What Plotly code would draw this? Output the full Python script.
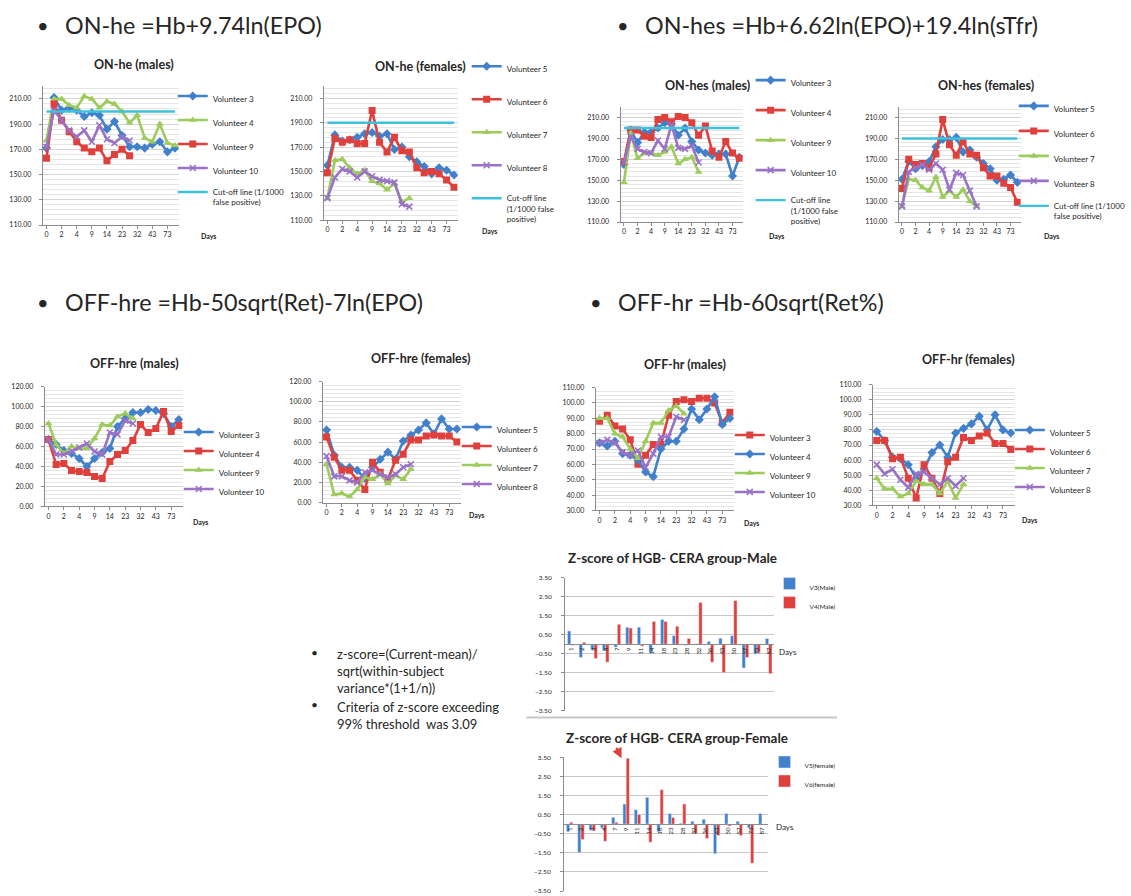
import plotly.graph_objects as go

W, H = 1131, 896
FONT = "Lato"
TXT = "#262626"
AX = "#8c8c8c"
GRID = "#d4d4d4"
MINOR = "#e6e6e6"

BLUE = "#4181cc"
RED = "#e0403c"
GREEN = "#9dcb5c"
PURPLE = "#9a72c6"
CYAN = "#3dc2de"

# Sampling days (every other one is labelled on the axis)
DAYS = ["0", "1", "2", "3", "4", "7", "9", "11", "14", "18", "23", "28", "32", "36", "43", "57", "73", "87"]
DAY_TICKS = DAYS[::2]
Z_DAYS = ["1", "2", "3", "4", "7", "9", "11", "14", "18", "23", "28", "32", "36", "43", "50", "57", "73", "87"]

CUTOFF_MALE = 200
CUTOFF_FEMALE = 190

# ON-he = Hb + 9.74 ln(EPO)
ONHE_M_V3 = [171, 211, 201, 203, 201, 196, 199, 197, 186, 192, 181, 172, 172, 171, 174, 176, 168, 171]
ONHE_M_V4 = [177, 210, 210, 205, 203, 212, 210, 203, 208, 206, 200, 191, 197, 179, 176, 190, 175, 173]
ONHE_M_V9 = [163, 206, 193, 184, 176, 171, 168, 171, 161, 166, 170, 165]
ONHE_M_V10 = [172, 201, 193, 185, 180, 185, 176, 189, 178, 175, 180, 177]

ONHE_F_V5 = [155, 180, 175, 176, 178, 181, 182, 179, 181, 168, 170, 162, 158, 154, 148, 153, 151, 147]
ONHE_F_V6 = [149, 177, 174, 176, 173, 173, 200, 174, 166, 178, 167, 166, 153, 149, 150, 148, 143, 137]
ONHE_F_V7 = [128, 159, 160, 153, 148, 151, 142, 140, 135, 140, 125, 128]
ONHE_F_V8 = [128, 145, 152, 150, 145, 150, 146, 143, 142, 141, 123, 121]

# ON-hes = Hb + 6.62 ln(EPO) + 19.4 ln(sTfr)
ONHES_M_V3 = [165, 198, 186, 196, 196, 200, 205, 204, 193, 200, 187, 179, 176, 174, 175, 175, 154, 172]
ONHES_M_V4 = [168, 198, 198, 192, 191, 208, 210, 206, 211, 210, 205, 193, 202, 178, 172, 187, 176, 171]
ONHES_M_V9 = [148, 195, 171, 176, 176, 174, 177, 182, 166, 170, 172, 158]
ONHES_M_V10 = [167, 192, 180, 177, 176, 188, 180, 203, 181, 180, 183, 167]

ONHES_F_V5 = [151, 168, 161, 164, 168, 182, 189, 189, 191, 177, 179, 172, 166, 161, 150, 151, 155, 148]
ONHES_F_V6 = [142, 170, 165, 166, 162, 175, 208, 184, 174, 187, 175, 174, 162, 154, 154, 147, 143, 129]
ONHES_F_V7 = [125, 151, 150, 143, 140, 153, 134, 140, 134, 141, 130, 125]
ONHES_F_V8 = [125, 158, 162, 165, 160, 166, 160, 141, 157, 155, 140, 125]

# OFF-hre = Hb - 50 sqrt(Ret) - 7 ln(EPO)
OFFHRE_M_V3 = [67, 62, 56, 53, 48, 40, 48, 54, 58, 80, 88, 94, 94, 97, 96, 93, 80, 87]
OFFHRE_M_V4 = [67, 42, 43, 36, 35, 34, 30, 28, 45, 52, 56, 66, 82, 74, 78, 95, 75, 81]
OFFHRE_M_V9 = [83, 62, 53, 60, 58, 58, 68, 82, 81, 90, 93, 88]
OFFHRE_M_V10 = [67, 52, 52, 55, 59, 63, 55, 52, 74, 72, 86, 83]

OFFHRE_F_V5 = [72, 47, 35, 35, 32, 24, 35, 43, 50, 43, 61, 67, 72, 79, 68, 83, 73, 73]
OFFHRE_F_V6 = [65, 45, 32, 32, 22, 13, 40, 30, 23, 42, 48, 62, 62, 66, 67, 66, 66, 60]
OFFHRE_F_V7 = [38, 8, 9, 6, 13, 25, 23, 28, 19, 27, 23, 33]
OFFHRE_F_V8 = [46, 26, 26, 22, 20, 30, 32, 28, 25, 28, 35, 38]

# OFF-hr = Hb - 60 sqrt(Ret%)
OFFHR_M_V3 = [88, 92, 85, 83, 76, 60, 66, 73, 73, 92, 101, 102, 101, 103, 103, 100, 87, 94]
OFFHR_M_V4 = [74, 72, 75, 67, 66, 63, 55, 52, 70, 75, 75, 83, 96, 89, 96, 104, 86, 90]
OFFHR_M_V9 = [90, 90, 80, 78, 70, 64, 75, 87, 87, 95, 98, 93]
OFFHR_M_V10 = [74, 76, 74, 68, 66, 69, 58, 67, 78, 78, 91, 89]

OFFHR_F_V5 = [79, 73, 62, 61, 57, 48, 54, 65, 70, 62, 78, 81, 84, 89, 80, 90, 80, 78]
OFFHR_F_V6 = [73, 73, 61, 62, 48, 35, 57, 48, 38, 59, 62, 75, 73, 76, 78, 71, 71, 67]
OFFHR_F_V7 = [48, 41, 41, 36, 38, 46, 44, 44, 38, 46, 35, 44]
OFFHR_F_V8 = [57, 51, 54, 47, 42, 51, 52, 48, 44, 48, 43, 48]

# Z-scores of HGB, CERA group
Z_MALE_V3 = [0.70, -0.70, -0.30, -0.35, -0.15, 0.90, 0.90, -0.45, 1.30, 0.45, -0.05, 0.02, 0.15, 0.32, 0.45, -1.25, -0.50, 0.30]
Z_MALE_V4 = [-0.05, 0.10, -0.75, -0.95, 1.05, 0.85, -0.10, 1.20, 1.20, 0.95, 0.30, 2.20, -0.95, -1.50, 2.30, -0.70, -0.45, -1.55]
Z_FEMALE_V5 = [-0.40, -1.50, -0.30, -0.20, 0.35, 1.05, 0.75, 1.40, -0.40, 0.55, 0.05, 0.15, 0.25, -1.55, 0.55, 0.15, -0.20, 0.55]
Z_FEMALE_V6 = [0.10, -0.80, -0.35, -0.90, 0.10, 3.45, 0.50, -0.95, 1.80, 0.35, 1.05, -0.50, -0.75, -0.60, -0.10, -0.60, -2.05, 0.00]

STYLE = {
    "blue": (BLUE, "diamond", 7),
    "red": (RED, "square", 7),
    "green": (GREEN, "triangle-up", 7),
    "purple": (PURPLE, "x-thin", 6),
}

fig = go.Figure()
annotations = []
shapes = []
layout = {}


def px(x):
    return x / W


def py(y):
    return 1 - y / H


def sfx(k):
    return "" if k == 1 else str(k)


def text(x, y, s, size, xanchor="left", bold=False, color=TXT):
    annotations.append(dict(
        x=px(x), y=py(y), xref="paper", yref="paper", showarrow=False,
        text=f"<b>{s}</b>" if bold else s, xanchor=xanchor, yanchor="middle",
        align="left", font=dict(family=FONT, size=size, color=color)))


def legend_box(k, leg, size=8):
    x, first_y, gap = leg
    layout["legend" + sfx(k)] = dict(
        x=px(x), y=py(first_y - 14), xref="paper", yref="paper",
        xanchor="left", yanchor="top", tracegroupgap=gap, valign="top",
        bgcolor="rgba(0,0,0,0)", borderwidth=0, itemclick=False, itemdoubleclick=False,
        font=dict(family=FONT, size=size, color=TXT))


def line_chart(k, box, yr, ydt, yminor, series, cut, cut_name, title, title_pos, days_pos, leg):
    s = sfx(k)
    x0, y0, x1, y1 = box
    for name, vals, style in series:
        col, sym, size = STYLE[style]
        fig.add_trace(go.Scatter(
            x=DAYS[:len(vals)], y=vals, name=name, mode="lines+markers",
            line=dict(color=col, width=2.6),
            marker=dict(symbol=sym, size=size, color=col,
                        line=dict(color=col, width=1.6 if sym == "x-thin" else 0)),
            xaxis="x" + s, yaxis="y" + s, legend="legend" + s,
            legendgroup=f"g{k}-{name}"))
    if cut is not None:
        fig.add_trace(go.Scatter(
            x=DAYS, y=[cut] * len(DAYS), name=cut_name, mode="lines",
            line=dict(color=CYAN, width=2.4),
            xaxis="x" + s, yaxis="y" + s, legend="legend" + s,
            legendgroup=f"g{k}-cut"))
    layout["xaxis" + s] = dict(
        domain=[px(x0), px(x1)], anchor="y" + s, type="category",
        categoryorder="array", categoryarray=DAYS, range=[-0.5, len(DAYS) - 0.5],
        tickmode="array", tickvals=DAY_TICKS, showline=True, linecolor=AX, linewidth=1,
        ticks="outside", ticklen=3, tickcolor=AX, showgrid=False, zeroline=False,
        tickfont=dict(family=FONT, size=7, color=TXT), fixedrange=True)
    layout["yaxis" + s] = dict(
        domain=[py(y1), py(y0)], anchor="x" + s, range=yr, tick0=yr[0], dtick=ydt,
        tickformat=".2f", showline=True, linecolor=AX, ticks="outside", ticklen=3,
        tickcolor=AX, showgrid=True, gridcolor=GRID, gridwidth=1, zeroline=False,
        minor=dict(tick0=yr[0], dtick=yminor, showgrid=True, gridcolor=MINOR, ticks=""),
        tickfont=dict(family=FONT, size=7, color=TXT), ticklabelstandoff=6, fixedrange=True)
    text(title_pos[0], title_pos[1], title, 12.5, xanchor="center", bold=True)
    text(days_pos[0], days_pos[1], "Days", 7, bold=True)
    legend_box(k, leg)


def z_chart(k, box, va, vb, names, title, title_pos, days_pos, leg):
    s = sfx(k)
    x0, y0, x1, y1 = box
    yr = [-3.5, 3.5]
    fig.add_trace(go.Bar(x=Z_DAYS, y=va, name=names[0], marker_color=BLUE,
                         xaxis="x" + s, yaxis="y" + s, legend="legend" + s,
                         legendgroup=f"g{k}-a"))
    fig.add_trace(go.Bar(x=Z_DAYS, y=vb, name=names[1], marker_color=RED,
                         xaxis="x" + s, yaxis="y" + s, legend="legend" + s,
                         legendgroup=f"g{k}-b"))
    zero_y = y0 + (yr[1] - 0) / (yr[1] - yr[0]) * (y1 - y0)
    layout["xaxis" + s] = dict(
        domain=[px(x0), px(x1)], anchor="free", position=py(zero_y), type="category",
        categoryorder="array", categoryarray=Z_DAYS, range=[-0.5, len(Z_DAYS) - 0.5],
        showline=True, linecolor=AX, linewidth=1, ticks="", tickangle=-90,
        showgrid=False, zeroline=False,
        tickfont=dict(family=FONT, size=6, color=TXT), fixedrange=True)
    layout["yaxis" + s] = dict(
        domain=[py(y1), py(y0)], anchor="x" + s, range=yr, tick0=yr[0], dtick=1,
        tickformat=".2f", showline=True, linecolor=AX, ticks="outside", ticklen=3,
        tickcolor=AX, showgrid=True, gridcolor="#c8c8c8", zeroline=False,
        tickfont=dict(family=FONT, size=6.5, color=TXT), ticklabelstandoff=8,
        fixedrange=True)
    text(title_pos[0], title_pos[1], title, 13.5, xanchor="center", bold=True)
    text(days_pos[0], days_pos[1], "Days", 8)
    legend_box(k, leg, size=6.5)


CUT_1 = "Cut-off line (1/1000<br>false positive)"
CUT_3 = "Cut-off line<br>(1/1000 false<br>positive)"

line_chart(1, (43, 82, 180, 222), [110, 220], 20, 4,
           [("Volunteer 3", ONHE_M_V3, "blue"), ("Volunteer 4", ONHE_M_V4, "green"),
            ("Volunteer 9", ONHE_M_V9, "red"), ("Volunteer 10", ONHE_M_V10, "purple")],
           CUTOFF_MALE, CUT_1, "ON-he (males)", (135, 60), (200, 233), (174, 94, 5))

line_chart(2, (326, 82, 461, 217), [110, 220], 20, 4,
           [("Volunteer 5", ONHE_F_V5, "blue"), ("Volunteer 6", ONHE_F_V6, "red"),
            ("Volunteer 7", ONHE_F_V7, "green"), ("Volunteer 8", ONHE_F_V8, "purple")],
           CUTOFF_FEMALE, CUT_3, "ON-he (females)", (423, 62), (483, 228), (470, 64, 14))

line_chart(3, (625, 103, 748, 219), [110, 220], 20, 4,
           [("Volunteer 3", ONHES_M_V3, "blue"), ("Volunteer 4", ONHES_M_V4, "red"),
            ("Volunteer 9", ONHES_M_V9, "green"), ("Volunteer 10", ONHES_M_V10, "purple")],
           CUTOFF_MALE, CUT_3, "ON-hes (males)", (713, 81), (772, 233), (756, 78, 11))

line_chart(4, (905, 103, 1028, 219), [110, 220], 20, 4,
           [("Volunteer 5", ONHES_F_V5, "blue"), ("Volunteer 6", ONHES_F_V6, "red"),
            ("Volunteer 7", ONHES_F_V7, "green"), ("Volunteer 8", ONHES_F_V8, "purple")],
           CUTOFF_FEMALE, CUT_1, "ON-hes (females)", (993, 81), (1049, 233), (1021, 104, 6))

line_chart(5, (45, 385, 184, 506), [0, 120], 20, 4,
           [("Volunteer 3", OFFHRE_M_V3, "blue"), ("Volunteer 4", OFFHRE_M_V4, "red"),
            ("Volunteer 9", OFFHRE_M_V9, "green"), ("Volunteer 10", OFFHRE_M_V10, "purple")],
           None, None, "OFF-hre (males)", (135, 362), (192, 522), (180, 433, 0))

line_chart(6, (325, 380, 464, 502), [0, 120], 20, 4,
           [("Volunteer 5", OFFHRE_F_V5, "blue"), ("Volunteer 6", OFFHRE_F_V6, "red"),
            ("Volunteer 7", OFFHRE_F_V7, "green"), ("Volunteer 8", OFFHRE_F_V8, "purple")],
           None, None, "OFF-hre (females)", (423, 357), (470, 515), (460, 428, 0))

line_chart(7, (600, 386, 739, 510), [30, 110], 10, 2.5,
           [("Volunteer 3", OFFHR_M_V3, "red"), ("Volunteer 4", OFFHR_M_V4, "blue"),
            ("Volunteer 9", OFFHR_M_V9, "green"), ("Volunteer 10", OFFHR_M_V10, "purple")],
           None, None, "OFF-hr (males)", (690, 363), (747, 523), (735, 436, 0))

line_chart(8, (879, 383, 1022, 505), [30, 110], 10, 2.5,
           [("Volunteer 5", OFFHR_F_V5, "blue"), ("Volunteer 6", OFFHR_F_V6, "red"),
            ("Volunteer 7", OFFHR_F_V7, "green"), ("Volunteer 8", OFFHR_F_V8, "purple")],
           None, None, "OFF-hr (females)", (975, 358), (1027, 520), (1017, 431, 0))

z_chart(9, (569, 578, 780, 712), Z_MALE_V3, Z_MALE_V4, ("V3(Male)", "V4(Male)"),
        "Z-score of HGB- CERA group-Male", (677, 558), (783, 653), (775, 587, 0))

z_chart(10, (568, 759, 773, 894), Z_FEMALE_V5, Z_FEMALE_V6, ("V5(female)", "V6(female)"),
        "Z-score of HGB- CERA group-Female", (682, 740), (780, 829), (770, 767, 0))

# Slide headings
for bx, tx, ty, label in [
    (43, 63, 20, "ON-he =Hb+9.74ln(EPO)"),
    (627, 648, 20, "ON-hes =Hb+6.62ln(EPO)+19.4ln(sTfr)"),
    (43, 63, 300, "OFF-hre =Hb-50sqrt(Ret)-7ln(EPO)"),
    (600, 620, 300, "OFF-hr =Hb-60sqrt(Ret%)"),
]:
    text(bx, ty, "•", 20, xanchor="center")
    text(tx, ty, label, 23.3)

# Notes on the z-score criteria
text(317, 653, "•", 12, xanchor="center")
annotations.append(dict(
    x=px(337), y=py(645), xref="paper", yref="paper", showarrow=False,
    xanchor="left", yanchor="top", align="left",
    text="z-score=(Current-mean)/<br>sqrt(within-subject<br>variance*(1+1/n))",
    font=dict(family=FONT, size=13, color=TXT)))
text(317, 706, "•", 12, xanchor="center")
annotations.append(dict(
    x=px(337), y=py(698), xref="paper", yref="paper", showarrow=False,
    xanchor="left", yanchor="top", align="left",
    text="Criteria of z-score exceeding<br>99% threshold  was 3.09",
    font=dict(family=FONT, size=13, color=TXT)))

# Arrow marking the female z-score peak
annotations.append(dict(
    x=px(626), y=py(760), xref="paper", yref="paper", text="", showarrow=True,
    ax=-6, ay=-12, arrowhead=2, arrowsize=1, arrowwidth=2, arrowcolor=RED))

# Divider between the two z-score charts
shapes.append(dict(type="line", xref="paper", yref="paper",
                   x0=px(530), x1=px(843), y0=py(719), y1=py(719),
                   line=dict(color="#c8c8c8", width=2)))

fig.update_layout(
    width=W, height=H, autosize=False,
    margin=dict(l=0, r=0, t=0, b=0, pad=0),
    paper_bgcolor="white", plot_bgcolor="white",
    font=dict(family=FONT, color=TXT),
    showlegend=True, barmode="group", bargap=0.43, bargroupgap=0,
    hovermode=False,
    annotations=annotations, shapes=shapes,
    **layout)

fig.write_html("out.html")
